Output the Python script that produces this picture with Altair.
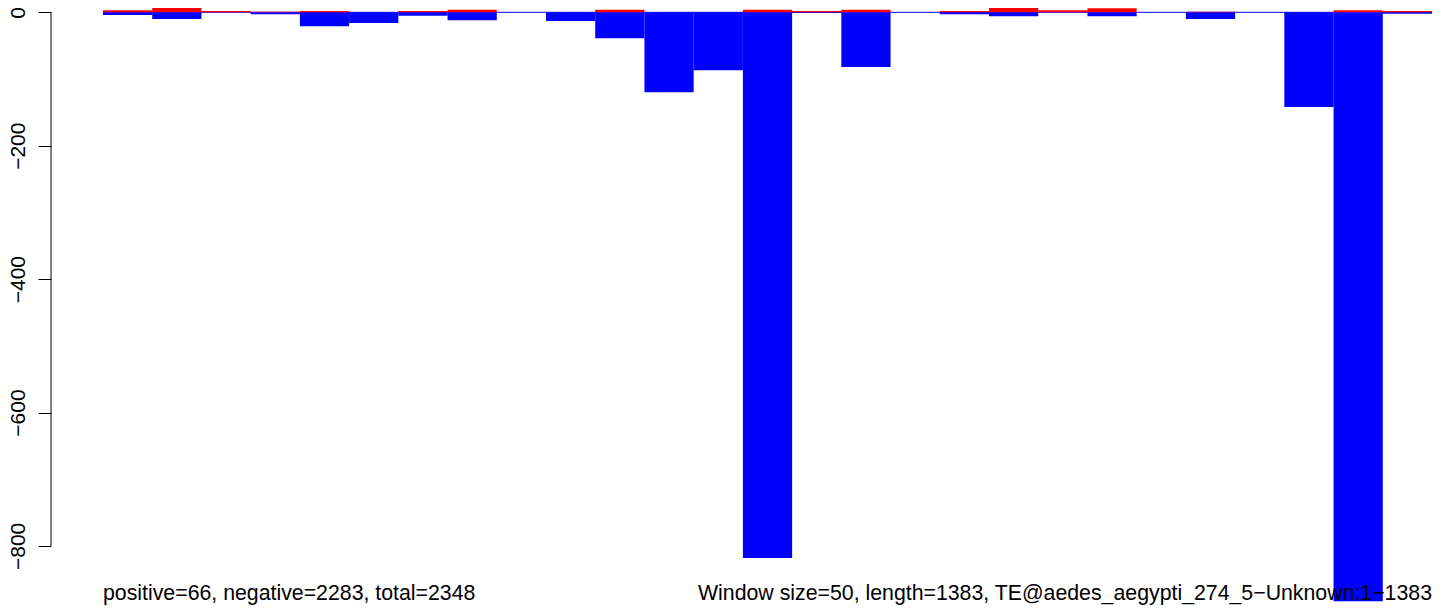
import altair as alt
import pandas as pd

# Windows of 50 bp along a 1383 bp element
windows = list(range(27))
positive = [3, 13, 2, 1, 2, 0, 2, 4, 0, 0, 4, 0, 0, 4, 2, 4, 0, 2, 8, 3, 6, 0, 1, 0, 0, 3, 2]
negative = [4, 10, 0, 3, 21, 16, 5, 12, 0, 13, 39, 120, 87, 818, 1, 82, 0, 3, 6, 0, 6, 0, 10, 0, 142, 883, 2]
y_ticks = [0, -200, -400, -600, -800]
left_text = "positive=66, negative=2283, total=2348"
right_text = "Window size=50, length=1383, TE@aedes_aegypti_274_5\u2212Unknown:1\u22121383"

df = pd.DataFrame({
    "start": windows,
    "end": [w + 1 for w in windows],
    "pos": positive,
    "neg": [-v for v in negative],
    "zero": [0] * len(windows),
})

XMIN = -1.0564
XMAX = 27
FONT = "Liberation Sans"

xscale = alt.Scale(domain=[XMIN, XMAX], nice=False, zero=False)
yscale = alt.Scale(domain=[-888.6, 6.45], nice=False, zero=False)

yaxis = alt.Axis(
    values=y_ticks, domain=False, grid=False, title=None,
    tickSize=13, tickColor="black", tickWidth=1,
    labelAngle=270, labelAlign="center", labelBaseline="alphabetic",
    labelPadding=14, labelFont=FONT, labelFontSize=21, labelColor="black",
    labelFlush=False, labelOverlap=False,
)

base = alt.Chart(df)

blue = base.mark_bar(color="#0000FF", stroke=None, opacity=1).encode(
    x=alt.X("start:Q", scale=xscale, axis=None),
    x2="end:Q",
    y=alt.Y("zero:Q", scale=yscale, axis=yaxis),
    y2="neg:Q",
)

red = base.mark_bar(color="#FF0000", stroke=None, opacity=1).encode(
    x=alt.X("start:Q", scale=xscale, axis=None),
    x2="end:Q",
    y=alt.Y("zero:Q", scale=yscale, axis=yaxis),
    y2="pos:Q",
)

zero_line = alt.Chart(pd.DataFrame({"a": [0], "b": [XMAX], "y": [0]})).mark_rule(
    color="#0000FF", strokeWidth=1
).encode(
    x=alt.X("a:Q", scale=xscale, axis=None),
    x2="b:Q",
    y=alt.Y("y:Q", scale=yscale, axis=yaxis),
)

axis_line = alt.Chart(pd.DataFrame({"x": [XMIN], "y1": [y_ticks[0]], "y2": [y_ticks[-1]]})).mark_rule(
    color="black", strokeWidth=1
).encode(
    x=alt.X("x:Q", scale=xscale, axis=None),
    y=alt.Y("y1:Q", scale=yscale, axis=yaxis),
    y2="y2:Q",
)

txt_left = alt.Chart(pd.DataFrame({"x": [0], "t": [left_text]})).mark_text(
    align="left", baseline="alphabetic", font=FONT, fontSize=21.3, color="black"
).encode(
    x=alt.X("x:Q", scale=xscale, axis=None),
    y=alt.value(592),
    text="t:N",
)

txt_right = alt.Chart(pd.DataFrame({"x": [XMAX], "t": [right_text]})).mark_text(
    align="right", baseline="alphabetic", font=FONT, fontSize=21.3, color="black"
).encode(
    x=alt.X("x:Q", scale=xscale, axis=None),
    y=alt.value(592),
    text="t:N",
)

chart = alt.layer(blue, zero_line, red, axis_line, txt_left, txt_right).properties(
    width=1381,
    height=597,
    padding={"left": 43, "top": 0, "right": 0, "bottom": 0},
    autosize=alt.AutoSizeParams(type="none"),
    background="white",
).configure_view(stroke=None)

chart.save("out.html", embed_options={"renderer": "svg", "actions": False})
